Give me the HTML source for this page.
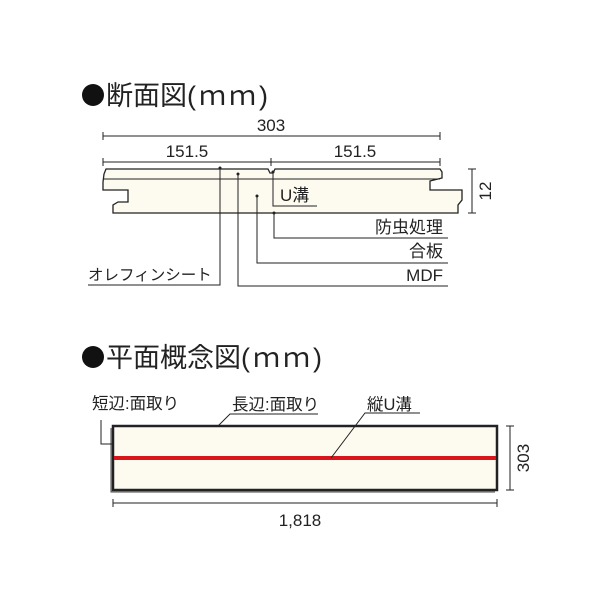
<!DOCTYPE html>
<html><head><meta charset="utf-8"><style>
html,body{margin:0;padding:0;background:#fff;width:600px;height:600px;overflow:hidden}
text{font-family:"Liberation Sans","Noto Sans CJK JP",sans-serif;fill:#222}
</style></head><body>
<svg width="600" height="600" viewBox="0 0 600 600" xmlns="http://www.w3.org/2000/svg">
<circle cx="93" cy="95" r="11" fill="#111"/>
<text x="106" y="105" font-size="27">断面図<tspan letter-spacing="3">(ｍｍ)</tspan></text>
<circle cx="93" cy="357" r="11" fill="#111"/>
<text x="106" y="367" font-size="27">平面概念図<tspan letter-spacing="3">(ｍｍ)</tspan></text>

<g stroke="#222" fill="none" stroke-width="1">
<path d="M103 136H440M103 132v8M440 132v8"/>
<path d="M103 162H440M103 158v8M271 158v8M440 158v8"/>
<path d="M106 169H268l2 4 3 0 2-4H440l2 3v6l-12 3v9h32v10l-4 5v8H113v-8l5-3 10 0v-12H103v-8l1-8z" fill="#fdfbef" stroke-width="1.3"/>
<path d="M104 179H440" stroke-width="0.9"/>
<path d="M472 169V213M468 169h8M468 213h8"/>
<path d="M220 168V285H88"/>
<path d="M238 174V286H448"/>
<path d="M257 196V263H448"/>
<path d="M274 213V238H448"/>
<path d="M273 172V206H317"/>
</g>
<g fill="#222">
<circle cx="220" cy="168" r="1.5"/><circle cx="238" cy="174" r="1.5"/><circle cx="257" cy="196" r="1.5"/><circle cx="274" cy="213" r="1.5"/><circle cx="273" cy="172" r="1.5"/>
</g>
<text x="271" y="131" font-size="17" text-anchor="middle">303</text>
<text x="187" y="157" font-size="17" text-anchor="middle">151.5</text>
<text x="355" y="157" font-size="17" text-anchor="middle">151.5</text>
<text x="280" y="201" font-size="17">U溝</text>
<text x="443" y="233" font-size="17" text-anchor="end">防虫処理</text>
<text x="443" y="257" font-size="17" text-anchor="end">合板</text>
<text x="443" y="281" font-size="17" text-anchor="end">MDF</text>
<text x="88" y="280" font-size="15.5">オレフィンシート</text>
<text transform="translate(491,191) rotate(-90)" font-size="17" text-anchor="middle">12</text>

<path d="M111 428V492H495" stroke="#444" fill="none" stroke-width="1"/>
<rect x="113" y="426" width="384" height="64" fill="#fdfbef" stroke="#222" stroke-width="2.5"/>
<path d="M114 458H496" stroke="#d8151b" stroke-width="4"/>
<g stroke="#222" fill="none" stroke-width="1">
<path d="M113 503H497M113 499v8M497 499v8"/>
<path d="M510 426V490M506 426h8M506 490h8"/>
<path d="M101 420V444H112"/>
<path d="M318 414H230L218 426"/>
<path d="M420 413H365L331 458"/>
</g>
<text x="92" y="409" font-size="16.5">短辺:面取り</text>
<text x="232" y="410" font-size="16.5">長辺:面取り</text>
<text x="367" y="410" font-size="16.5">縦U溝</text>
<text x="300" y="526" font-size="17" text-anchor="middle">1,818</text>
<text transform="translate(529,458) rotate(-90)" font-size="17" text-anchor="middle">303</text>
</svg>
</body></html>
